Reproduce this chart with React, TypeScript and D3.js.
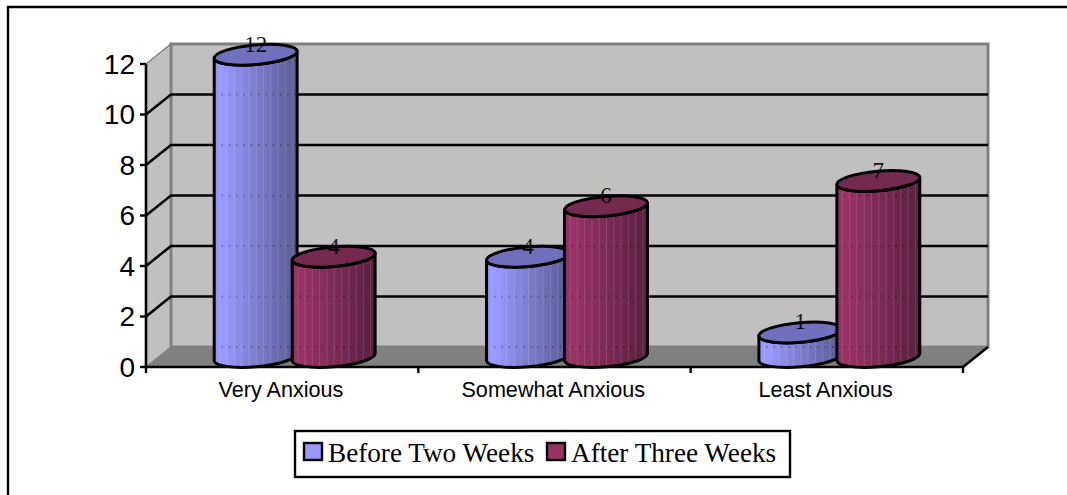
import React from "react";
import * as d3 from "d3";

const categories = ["Very Anxious", "Somewhat Anxious", "Least Anxious"];
const seriesNames = ["Before Two Weeks", "After Three Weeks"];
const beforeValues = [12, 4, 1];
const afterValues = [4, 6, 7];
const yTicks = [0, 2, 4, 6, 8, 10, 12];

const seriesValues = [beforeValues, afterValues];
const swatch = ["#9999FF", "#993366"];
const shadeDark = ["#5A5A92", "#5A2040"];
const capFill = ["#7070BC", "#74294F"];

const W = 1067, H = 495;
const left = 146, right = 963, DX = 25, DY = 20;
const y = d3.scaleLinear().domain([0, 12]).range([367, 64]);
const x0 = d3.scaleBand<string>().domain(categories).range([left, right]);
const x1 = d3.scaleBand<string>().domain(seriesNames).range([-78, 78]);

const TILT = 5;
const A = 41.6, B = 9.8, TH = (TILT * Math.PI) / 180;
const xExt = Math.sqrt(A * A * Math.cos(TH) ** 2 + B * B * Math.sin(TH) ** 2);
const yAtExt = ((A * A - B * B) * Math.sin(TH) * Math.cos(TH)) / xExt;

function bodyPath(cx: number, topY: number, botY: number) {
  const l = cx - xExt, r = cx + xExt;
  const arc = `A${A} ${B} ${-TILT} 0`;
  return `M${l} ${topY + yAtExt} L${l} ${botY + yAtExt} ${arc} 0 ${r} ${botY - yAtExt} L${r} ${topY - yAtExt} ${arc} 1 ${l} ${topY + yAtExt}Z`;
}

export default function App() {
  const stripeXs = d3.range(-36, 40, 7.3);
  return (
    <svg width={W} height={H} viewBox={`0 0 ${W} ${H}`} style={{ position: "absolute", left: 0, top: 0, background: "#fff" }}>
      <defs>
        {swatch.map((c, i) => (
          <linearGradient key={i} id={`g${i}`} x1="0" x2="1" y1="0" y2="0">
            <stop offset="0" stopColor={d3.interpolateRgb(c, shadeDark[i])(0.08)} />
            <stop offset="0.1" stopColor={c} />
            <stop offset="1" stopColor={shadeDark[i]} />
          </linearGradient>
        ))}
      </defs>
      <path d={`M8 ${H}V7H${W}`} fill="none" stroke="#000" strokeWidth={2.4} />

      {/* walls and floor */}
      <polygon
        points={`${left},${y(12)} ${left + DX},${y(12) - DY} ${left + DX},${y(0) - DY} ${left},${y(0)}`}
        fill="#C0C0C0" stroke="#808080" strokeWidth={1.5}
      />
      <rect x={left + DX} y={y(12) - DY} width={right - left} height={y(0) - y(12)} fill="#C0C0C0" stroke="#808080" strokeWidth={3} />
      <polygon
        points={`${left},${y(0)} ${left + DX},${y(0) - DY} ${right + DX},${y(0) - DY} ${right},${y(0)}`}
        fill="#808080"
      />
      {yTicks.filter((t) => t > 0 && t < 12).map((t) => (
        <path key={t} d={`M${left} ${y(t)}L${left + DX} ${y(t) - DY}H${right + DX}`} fill="none" stroke="#000" strokeWidth={2.6} />
      ))}

      {/* axes */}
      <path d={`M${left} ${y(12)}V${y(0)}H${right}L${right + DX} ${y(0) - DY}`} fill="none" stroke="#000" strokeWidth={2.6} />
      {yTicks.map((t) => (
        <g key={t}>
          <line x1={left - 6} x2={left} y1={y(t)} y2={y(t)} stroke="#000" strokeWidth={2.4} />
          <text x={135} y={y(t) + 9.6} textAnchor="end" fontFamily="Liberation Sans" fontSize={28} fill="#000">{t}</text>
        </g>
      ))}
      {[left, ...categories.map((c) => (x0(c) as number) + x0.bandwidth())].map((v) => (
        <line key={v} x1={v} x2={v} y1={y(0)} y2={y(0) + 6} stroke="#000" strokeWidth={2.4} />
      ))}
      {categories.map((c) => (
        <text key={c} x={(x0(c) as number) + x0.bandwidth() / 2 - 1.2} y={397} textAnchor="middle" fontFamily="Liberation Sans" fontSize={21.6} fill="#000">{c}</text>
      ))}

      {/* cylinders */}
      {categories.map((c, ci) =>
        seriesNames.map((s, si) => {
          const v = seriesValues[si][ci];
          const cx = (x0(c) as number) + x0.bandwidth() / 2 + (x1(s) as number) + x1.bandwidth() / 2 + DX / 2;
          const topY = y(v) - DY / 2 + 0.7;
          const botY = y(0) - DY / 2;
          const clip = `c${ci}${si}`;
          return (
            <g key={s + c}>
              <clipPath id={clip}><path d={bodyPath(cx, topY, botY)} /></clipPath>
              <path d={bodyPath(cx, topY, botY)} fill={`url(#g${si})`} />
              <g clipPath={`url(#${clip})`}>
                {stripeXs.map((sx, k) => (
                  <line key={k} x1={cx + sx} x2={cx + sx} y1={topY} y2={botY + 12} stroke="#fff" strokeOpacity={0.13} strokeWidth={1} />
                ))}
                {yTicks.filter((t) => t < v + 1).map((t) => (
                  <line key={t} x1={cx - xExt} x2={cx + xExt} y1={y(t) - DY} y2={y(t) - DY} stroke="#000" strokeOpacity={0.28} strokeWidth={2} strokeDasharray="1.5 5.8" />
                ))}
              </g>
              <path d={bodyPath(cx, topY, botY)} fill="none" stroke="#000" strokeWidth={3} strokeLinejoin="round" />
              <ellipse cx={cx} cy={topY} rx={A} ry={B} transform={`rotate(${-TILT} ${cx} ${topY})`} fill={capFill[si]} stroke="#000" strokeWidth={3} />
              <text x={cx} y={y(v) - DY + 7.5} textAnchor="middle" fontFamily="Liberation Serif" fontSize={23} fill="#000" fillOpacity={0.9}>{v}</text>
            </g>
          );
        })
      )}

      {/* legend */}
      <rect x={295} y={431} width={495} height={46} fill="#fff" stroke="#000" strokeWidth={2.4} />
      {seriesNames.map((s, i) => {
        const sx = i === 0 ? 304 : 547;
        return (
          <g key={s}>
            <rect x={sx} y={443} width={18} height={17} fill={swatch[i]} stroke="#000" strokeWidth={2.4} />
            <text x={sx + 24} y={462} fontFamily="Liberation Serif" fontSize={27.2} fill="#000">{s}</text>
          </g>
        );
      })}
    </svg>
  );
}
